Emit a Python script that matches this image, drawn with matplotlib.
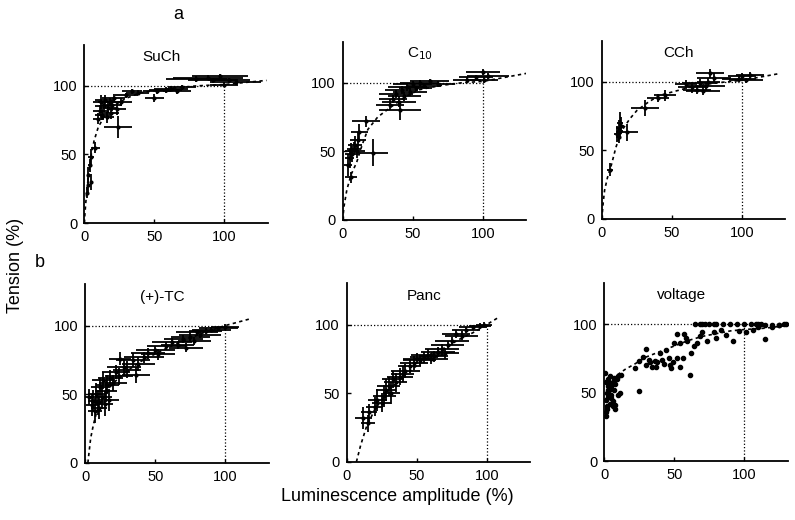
import matplotlib.pyplot as plt

plt.rcParams['font.family'] = ['Liberation Sans', 'DejaVu Sans']

# ---- data (luminescence %, tension %) ----
such_x = [2, 3, 3, 4, 5, 5, 8, 10, 11, 12, 13, 14, 15, 16, 17, 18, 19, 20, 21, 23, 24, 26,
          30, 34, 38, 50, 52, 58, 62, 66, 70, 80, 88, 92, 97, 100, 103, 108]
such_y = [22, 28, 35, 42, 48, 30, 55, 76, 82, 88, 79, 85, 90, 77, 84, 88, 80, 86, 91, 83, 70, 88,
          93, 96, 95, 91, 96, 97, 98, 96, 99, 105, 106, 104, 107, 101, 104, 103]
such_xerr = [1, 1, 1, 1, 2, 1, 3, 4, 5, 6, 5, 6, 7, 5, 6, 8, 6, 7, 8, 7, 10, 8,
             8, 7, 8, 7, 10, 12, 12, 10, 10, 22, 25, 18, 20, 10, 15, 18]
such_yerr = [4, 5, 6, 5, 6, 6, 4, 4, 4, 5, 4, 4, 3, 4, 4, 3, 4, 4, 3, 4, 8, 3,
             2, 2, 2, 3, 2, 2, 2, 2, 2, 2, 2, 2, 2, 2, 2, 2]
such_fit_x = [0, 1, 2, 3, 5, 7, 10, 15, 20, 30, 40, 60, 80, 100, 130]
such_fit_y = [0, 14, 25, 35, 50, 60, 70, 79, 85, 91, 95, 98, 100, 101, 104]

c10_x = [4, 5, 6, 6, 7, 8, 9, 10, 11, 12, 17, 22, 34, 36, 38, 40, 41, 42, 44, 46, 48, 50,
         52, 55, 58, 62, 68, 89, 95, 100, 101, 104]
c10_y = [40, 45, 31, 50, 48, 52, 55, 50, 58, 64, 72, 49, 84, 88, 92, 86, 80, 95, 90, 97, 93, 99,
         96, 100, 98, 101, 99, 102, 104, 108, 102, 105]
c10_xerr = [3, 3, 4, 4, 5, 5, 5, 6, 6, 6, 10, 10, 10, 10, 12, 12, 15, 12, 12, 14, 12, 14,
            12, 14, 12, 14, 12, 10, 12, 12, 10, 15]
c10_yerr = [8, 7, 4, 6, 6, 5, 6, 5, 6, 6, 4, 10, 4, 3, 3, 4, 7, 3, 3, 3, 3, 2,
            2, 2, 2, 2, 2, 2, 2, 2, 2, 2]
c10_fit_x = [0, 1, 3, 6, 10, 14, 18, 25, 34, 45, 55, 70, 85, 100, 132]
c10_fit_y = [0, 10, 22, 33, 42, 55, 66, 75, 82, 90, 95, 98, 100, 101, 107]

cch_x = [6, 11, 12, 12, 13, 13, 14, 18, 31, 40, 45, 60, 64, 68, 70, 72, 74, 76, 77, 80,
         98, 100, 103, 106]
cch_y = [36, 62, 60, 66, 70, 64, 68, 63, 81, 88, 90, 98, 96, 94, 99, 93, 97, 100, 106, 103,
         102, 104, 101, 105]
cch_xerr = [2, 2, 2, 2, 2, 2, 2, 8, 10, 8, 8, 8, 10, 10, 12, 12, 14, 8, 10, 12,
            12, 10, 12, 10]
cch_yerr = [5, 6, 5, 6, 8, 5, 6, 6, 6, 3, 4, 3, 4, 3, 3, 3, 3, 3, 3, 3,
            2, 2, 2, 2]
cch_fit_x = [0, 1, 2, 4, 7, 10, 14, 20, 25, 33, 41, 52, 63, 80, 100, 127]
cch_fit_y = [0, 12, 21, 30, 40, 52, 64, 73, 79, 85, 90, 93, 96, 99, 101, 106]

tc_x = [3, 5, 6, 7, 8, 9, 10, 11, 12, 13, 14, 15, 16, 17, 18, 20, 22, 24, 25, 28, 30, 34,
        36, 38, 42, 45, 50, 52, 58, 62, 66, 70, 72, 75, 78, 80, 82, 86, 90, 95, 100]
tc_y = [48, 42, 45, 38, 50, 44, 40, 55, 48, 60, 43, 52, 57, 46, 62, 58, 66, 63, 76, 70, 68, 75,
        64, 72, 77, 80, 82, 79, 85, 88, 86, 90, 84, 92, 89, 95, 93, 96, 97, 98, 99]
tc_xerr = [3, 4, 4, 5, 6, 5, 6, 7, 7, 8, 6, 8, 8, 7, 9, 10, 10, 10, 8, 12, 10, 12,
           10, 12, 14, 12, 14, 12, 14, 14, 12, 14, 12, 14, 12, 15, 15, 12, 14, 14, 10]
tc_yerr = [6, 8, 8, 9, 8, 9, 8, 7, 9, 6, 9, 8, 7, 8, 6, 6, 5, 6, 5, 6, 6, 5,
           6, 5, 4, 4, 3, 4, 3, 3, 3, 3, 3, 3, 3, 2, 2, 2, 2, 2, 2]
tc_fit_x = [2, 4, 6, 8, 10, 14, 20, 30, 40, 55, 70, 85, 100, 118]
tc_fit_y = [0, 18, 28, 36, 42, 50, 58, 67, 74, 82, 89, 95, 100, 105]

panc_x = [12, 15, 16, 20, 22, 25, 27, 28, 30, 32, 33, 35, 38, 40, 42, 45, 48, 50, 52, 55,
          58, 60, 62, 65, 68, 70, 72, 75, 78, 82, 85, 90, 95, 98]
panc_y = [32, 28, 36, 40, 45, 43, 48, 52, 55, 50, 60, 58, 62, 64, 66, 70, 72, 75, 74, 76,
          78, 75, 77, 80, 82, 79, 85, 88, 93, 92, 96, 98, 99, 100]
panc_xerr = [6, 5, 6, 6, 7, 7, 8, 7, 8, 6, 8, 8, 9, 8, 10, 8, 10, 10, 12, 10,
             12, 12, 10, 12, 12, 10, 12, 12, 10, 12, 10, 10, 8, 6]
panc_yerr = [8, 6, 6, 7, 8, 7, 8, 8, 7, 8, 6, 7, 6, 6, 5, 5, 5, 4, 4, 4,
             4, 4, 4, 4, 4, 4, 3, 3, 3, 3, 2, 2, 2, 2]
panc_fit_x = [7, 10, 14, 20, 30, 40, 50, 60, 70, 80, 90, 100, 108]
panc_fit_y = [0, 12, 25, 38, 52, 62, 70, 77, 83, 89, 94, 100, 105]

volt_x = [0.5, 1, 1, 1.5, 2, 2, 2.5, 3, 3, 3.5, 4, 4, 5, 5, 6, 6, 7, 7, 8, 8, 9, 10, 10, 11,
          1, 2, 3, 4, 5, 6, 8, 12,
          22, 25, 25, 28, 30, 33, 36, 37, 40, 44, 47, 49, 52, 54, 52, 54, 59, 62, 61, 66,
          56, 57, 68, 70, 73, 78, 80, 83, 87, 92, 96, 101, 106, 110, 115, 120, 125, 130,
          30, 32, 34, 38, 41, 43, 46, 48, 50, 58, 64,
          65, 68, 70, 72, 75, 78, 80, 85, 90, 95, 100, 105, 108, 110, 112, 115, 120, 125, 128]
volt_y = [64, 36, 58, 45, 50, 40, 55, 60, 47, 52, 42, 62, 55, 48, 58, 44, 52, 61, 41, 56, 60, 48, 62, 50,
          33, 38, 52, 57, 46, 40, 38, 63,
          68, 73, 51, 76, 82, 72, 73, 69, 79, 81, 70, 72, 75, 69, 93, 86, 88, 79, 63, 86,
          75, 93, 91, 94, 88, 94, 90, 96, 92, 88, 95, 94, 96, 98, 89, 98, 99, 100,
          70, 74, 69, 72, 74, 71, 75, 68, 86, 90, 84,
          100, 100, 100, 100, 100, 100, 100, 100, 100, 100, 100, 100, 100, 100, 100, 99, 99, 99, 100]
volt_fit_x = [3, 8, 15, 22, 30, 40, 50, 60, 70, 80, 90, 100, 115, 131]
volt_fit_y = [56, 62, 67, 71, 76, 80, 84, 88, 91, 93, 95, 96, 97, 99]

titles = ['SuCh', 'C$_{10}$', 'CCh', '(+)-TC', 'Panc', 'voltage']
ticks = [0, 50, 100]

fig = plt.figure(figsize=(7.95, 5.2), dpi=100)
rects = [[0.106, 0.571, 0.231, 0.343], [0.431, 0.577, 0.231, 0.343], [0.757, 0.579, 0.231, 0.343],
         [0.107, 0.110, 0.231, 0.343], [0.436, 0.112, 0.231, 0.343], [0.760, 0.113, 0.231, 0.343]]
axes = [fig.add_axes(r) for r in rects]


def style(ax, title, hline_end=100):
    ax.set_xlim(0, 131)
    ax.set_ylim(0, 130)
    for s in ['top', 'right']:
        ax.spines[s].set_visible(False)
    for s in ['left', 'bottom']:
        ax.spines[s].set_linewidth(1.3)
    ax.set_xticks(ticks)
    ax.set_yticks(ticks)
    ax.tick_params(direction='in', length=3, width=1, labelsize=10.5, pad=5)
    ax.plot([0, hline_end], [100, 100], ':', color='k', lw=0.9)
    ax.plot([100, 100], [0, 100], ':', color='k', lw=0.9)
    ax.text(55, 121, title, ha='center', va='center', fontsize=11)


panels = [
    (such_x, such_y, such_xerr, such_yerr, such_fit_x, such_fit_y),
    (c10_x, c10_y, c10_xerr, c10_yerr, c10_fit_x, c10_fit_y),
    (cch_x, cch_y, cch_xerr, cch_yerr, cch_fit_x, cch_fit_y),
    (tc_x, tc_y, tc_xerr, tc_yerr, tc_fit_x, tc_fit_y),
    (panc_x, panc_y, panc_xerr, panc_yerr, panc_fit_x, panc_fit_y),
]

for ax, title, (x, y, xe, ye, fx, fy) in zip(axes[:5], titles[:5], panels):
    style(ax, title)
    ax.errorbar(x, y, xerr=xe, yerr=ye, fmt='o', color='k', ms=2, elinewidth=1.3, capsize=0)
    ax.plot(fx, fy, color='k', lw=1.2, dashes=(2, 2))

ax = axes[5]
style(ax, titles[5], hline_end=131)
ax.plot(volt_x, volt_y, 'o', color='k', ms=3)
ax.plot(volt_fit_x, volt_fit_y, color='k', lw=1.2, dashes=(2, 2))

fig.text(0.224, 0.972, 'a', fontsize=13, ha='center', va='center')
fig.text(0.050, 0.496, 'b', fontsize=13, ha='center', va='center')
fig.text(0.019, 0.49, 'Tension (%)', rotation=90, fontsize=13, ha='center', va='center')
fig.text(0.50, 0.045, 'Luminescence amplitude (%)', fontsize=13, ha='center', va='center')

fig.savefig('out.png', dpi=100)
